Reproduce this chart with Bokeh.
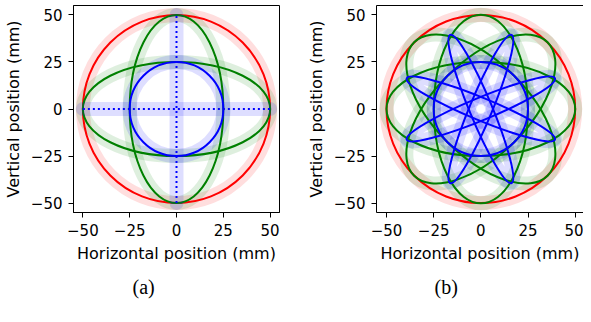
from bokeh.plotting import figure
from bokeh.layouts import row
from bokeh.models import FixedTicker, LinearAxis, Range1d, Title
from bokeh.embed import file_html
from bokeh.resources import INLINE

# ---- data ----
AXIS_TICKS = [-50, -25, 0, 25, 50]
TICK_LABELS = ["\u221250", "\u221225", "0", "25", "50"]
X_LABEL = "Horizontal position (mm)"
Y_LABEL = "Vertical position (mm)"
PANEL_LABELS = ["(a)", "(b)"]

# panel (a): ellipses (full width, full height, angle deg, colour)
A_ELL_W = [100, 50, 100, 50]
A_ELL_H = [100, 100, 50, 50]
A_ELL_ANGLE = [0, 0, 0, 0]
A_ELL_COLOR = ["red", "green", "green", "blue"]
# panel (a): dotted lines (blue)
A_SEG_X0 = [-50, 0]
A_SEG_Y0 = [0, -50]
A_SEG_X1 = [50, 0]
A_SEG_Y1 = [0, 50]

# panel (b): ellipses
B_ELL_W = [100, 100, 100, 100, 100, 85, 85, 85, 85, 50]
B_ELL_H = [100, 50, 50, 50, 50, 12, 12, 12, 12, 50]
B_ELL_ANGLE = [0, 0, 45, 90, 135, 22.5, 67.5, 112.5, 157.5, 0]
B_ELL_COLOR = ["red", "green", "green", "green", "green",
               "blue", "blue", "blue", "blue", "blue"]

BAND_COLOR = {"red": "#ff0000", "green": "#008000", "blue": "#0000ff"}

FIG_H = 306
TOP = 5


def style_axis(ax, label):
    ax.ticker = FixedTicker(ticks=AXIS_TICKS)
    ax.major_label_overrides = {t: s for t, s in zip(AXIS_TICKS, TICK_LABELS)}
    ax.major_tick_in = 0
    ax.major_tick_out = 5
    ax.major_tick_line_color = "black"
    ax.minor_tick_line_color = None
    ax.axis_line_color = "black"
    ax.major_label_text_font = "DejaVu Sans"
    ax.major_label_text_font_size = "15px"
    ax.major_label_text_color = "black"
    ax.major_label_standoff = 6
    ax.axis_label = label
    ax.axis_label_text_font = "DejaVu Sans"
    ax.axis_label_text_font_size = "16px"
    ax.axis_label_text_font_style = "normal"
    ax.axis_label_text_color = "black"
    ax.axis_label_standoff = 5


def make_fig(width, left, right, xr):
    p = figure(width=width, height=FIG_H, x_range=Range1d(*xr), y_range=Range1d(-55, 55),
               output_backend="svg", toolbar_location=None,
               min_border_left=left, min_border_right=right,
               min_border_top=TOP, min_border_bottom=FIG_H - TOP - 207)
    p.grid.visible = False
    p.background_fill_color = "white"
    p.border_fill_color = "white"
    style_axis(p.xaxis[0], X_LABEL)
    style_axis(p.yaxis[0], Y_LABEL)
    return p


def draw_ellipses(p, ws, hs, angs, cols):
    for w, h, a, c in zip(ws, hs, angs, cols):
        p.ellipse(x=0, y=0, width=w, height=h, angle=a, angle_units="deg",
                  fill_color=None, line_color=BAND_COLOR[c], line_alpha=0.13, line_width=14)
    for w, h, a, c in zip(ws, hs, angs, cols):
        p.ellipse(x=0, y=0, width=w, height=h, angle=a, angle_units="deg",
                  fill_color=None, line_color=BAND_COLOR[c], line_width=2)


def panel_label(p, text, offset):
    t = Title(text=text, align="left", offset=offset, text_font="Liberation Serif",
              text_font_size="20px", text_font_style="normal", text_color="black",
              standoff=16)
    p.add_layout(t, "below")


# ---- panel (a) ----
pa = make_fig(292, 70, 13, (-55, 55))
pa.outline_line_color = "black"
pa.outline_line_alpha = 1
draw_ellipses(pa, A_ELL_W, A_ELL_H, A_ELL_ANGLE, A_ELL_COLOR)
pa.segment(x0=A_SEG_X0, y0=A_SEG_Y0, x1=A_SEG_X1, y1=A_SEG_Y1,
           line_color="#0000ff", line_alpha=0.13, line_width=14, line_cap="round")
pa.segment(x0=A_SEG_X0, y0=A_SEG_Y0, x1=A_SEG_X1, y1=A_SEG_Y1,
           line_color="#0000ff", line_width=2, line_dash="2 3")
panel_label(pa, PANEL_LABELS[0], 59)

# ---- panel (b) ----
pb = make_fig(291, 84, 0, (-55.3, 54.4))
pb.outline_line_color = None
top = LinearAxis(ticker=FixedTicker(ticks=[]), major_tick_line_color=None,
                 minor_tick_line_color=None, major_label_text_font_size="0px",
                 major_label_text_color=None, axis_line_color="black",
                 major_tick_out=0, major_tick_in=0, major_label_standoff=0)
pb.add_layout(top, "above")
draw_ellipses(pb, B_ELL_W, B_ELL_H, B_ELL_ANGLE, B_ELL_COLOR)
panel_label(pb, PANEL_LABELS[1], 58)

layout = row(pa, pb)
open("out.html", "w").write(file_html(layout, INLINE))
